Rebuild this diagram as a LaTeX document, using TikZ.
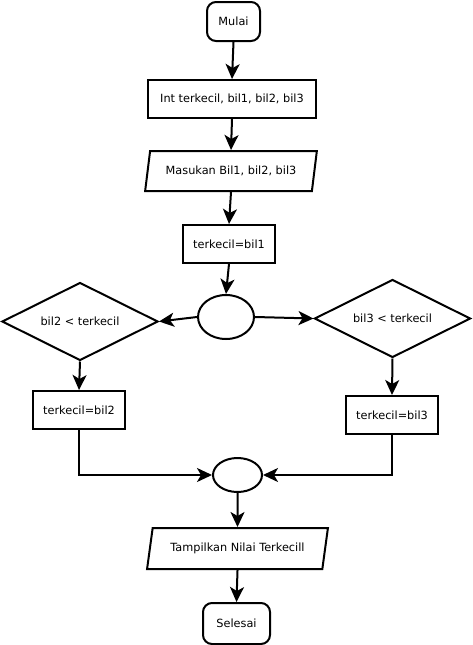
\documentclass[tikz,border=0pt]{standalone}
\usepackage{fontspec}
\setmainfont{DejaVu Sans}
\usetikzlibrary{shapes.geometric, arrows.meta}
\begin{document}
\begin{tikzpicture}[x=1pt,y=-1pt,
  base/.style={draw, line width=2pt, font=\fontsize{11.3}{13}\selectfont, inner sep=0pt},
  term/.style={base, rectangle, rounded corners=9pt, minimum width=53pt, minimum height=39pt},
  proc/.style={base, rectangle, minimum width=#1, minimum height=38pt},
  io/.style={base, trapezium, trapezium left angle=68, trapezium right angle=112, trapezium stretches=true, minimum width=#1, minimum height=40pt},
  dec/.style={base, diamond, aspect=2, minimum width=156pt, minimum height=78pt},
  junc/.style={base, ellipse},
  arr/.style={-{Stealth[length=15pt,width=14pt,inset=4pt]}, line width=2pt}]
\useasboundingbox (0,0) rectangle (472,645);
\node[term] (mulai) at (233.5,21.5) {Mulai};
\node[proc=168pt] (int) at (232,99) {Int terkecil, bil1, bil2, bil3};
\node[io=172pt] (masuk) at (231,171) {Masukan Bil1, bil2, bil3};
\node[proc=92pt] (t1) at (229,244) {terkecil=bil1};
\node[junc, minimum width=56pt, minimum height=44pt] (j1) at (226,317) {};
\node[dec] (d2) at (80,321.5) {bil2 < terkecil};
\node[dec] (d3) at (392.5,318.5) {bil3 < terkecil};
\node[proc=92pt] (t2) at (79,410) {terkecil=bil2};
\node[proc=92pt] (t3) at (392,415) {terkecil=bil3};
\node[junc, minimum width=49pt, minimum height=34pt] (j2) at (237.5,475) {};
\node[io=181pt, minimum height=41pt] (tamp) at (237.5,548.5) {Tampilkan Nilai Terkecill};
\node[term, minimum width=67pt, minimum height=41pt] (sel) at (236.5,623.5) {Selesai};
\draw[arr] (mulai.south) -- (int.north);
\draw[arr] (int.south) -- (masuk.north);
\draw[arr] (masuk.south) -- (t1.north);
\draw[arr] (t1.south) -- (j1.north);
\draw[arr] (j1.west) -- (d2.east);
\draw[arr] (j1.east) -- (d3.west);
\draw[arr] (d2.south) -- (t2.north);
\draw[arr] (d3.south) -- (t3.north);
\draw[arr] (t2.south) |- (j2.west);
\draw[arr] (t3.south) |- (j2.east);
\draw[arr] (j2.south) -- (tamp.north);
\draw[arr] (tamp.south) -- (sel.north);
\end{tikzpicture}
\end{document}
